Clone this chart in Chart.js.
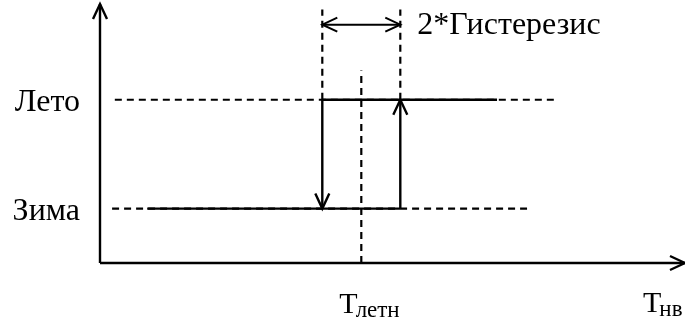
<!DOCTYPE html>
<html>
<head>
<meta charset="utf-8">
<script src="https://cdn.jsdelivr.net/npm/chart.js@4.4.0/dist/chart.umd.min.js"></script>
<style>
  html, body { margin: 0; padding: 0; background: #fff; }
  #wrap { width: 685px; height: 326px; }
</style>
</head>
<body>
<div id="wrap"><canvas id="chart" width="685" height="326"></canvas></div>
<script>
// axes range (x: Тнв relative to Тлетн, in units of hysteresis; y: mode level)
const xRange = [-6.7, 8.3];
const yRange = [-0.5, 1.88];

// mode levels
const levelLabels = ['Зима', 'Лето'];
const levelValues = [0, 1];

// switching points: Тлетн -/+ Гистерезис
const tSummer = 0;
const switchTemps = [-1, 1];

// horizontal guides and solid state lines (x from / to)
const summerGuideX = [-6.32, 5.04];
const summerLineX = [-1, 3.48];
const winterGuideX = [-6.39, 4.25];
const winterLineX = [-5.49, 1];

// vertical guides (y from / to)
const switchGuideY = [1, 1.83];
const centerGuideY = [-0.5, 1.27];
const spanArrowY = 1.69;

const FONT = "'Liberation Serif', 'Times New Roman', serif";
const DASH = [7, 5];

function seg(x0, y0, x1, y1, opts = {}) {
  return Object.assign({
    data: [{ x: x0, y: y0 }, { x: x1, y: y1 }],
    borderColor: '#000',
    borderWidth: 2.4,
    pointRadius: 0,
    tension: 0,
    fill: false,
    clip: false
  }, opts);
}

const datasets = [
  // axes
  seg(xRange[0], yRange[0], xRange[1], yRange[0], { arrow: 'end' }),
  seg(xRange[0], yRange[0], xRange[0], yRange[1], { arrow: 'end' }),
  // dashed guides
  seg(summerGuideX[0], levelValues[1], summerGuideX[1], levelValues[1], { borderDash: DASH, borderWidth: 2.2 }),
  seg(winterGuideX[0], levelValues[0], winterGuideX[1], levelValues[0], { borderDash: DASH, borderWidth: 2.2 }),
  seg(switchTemps[0], switchGuideY[0], switchTemps[0], switchGuideY[1], { borderDash: DASH, borderWidth: 2.2 }),
  seg(switchTemps[1], switchGuideY[0], switchTemps[1], switchGuideY[1], { borderDash: DASH, borderWidth: 2.2 }),
  seg(tSummer, centerGuideY[0], tSummer, centerGuideY[1], { borderDash: DASH, borderWidth: 2.2 }),
  // solid state lines
  seg(summerLineX[0], levelValues[1], summerLineX[1], levelValues[1]),
  seg(winterLineX[0], levelValues[0], winterLineX[1], levelValues[0]),
  // transitions
  seg(switchTemps[0], levelValues[1], switchTemps[0], levelValues[0], { arrow: 'end' }),
  seg(switchTemps[1], levelValues[0], switchTemps[1], levelValues[1], { arrow: 'end' }),
  // hysteresis span
  seg(switchTemps[0], spanArrowY, switchTemps[1], spanArrowY, { arrow: 'both', borderWidth: 2 })
];

function drawHead(ctx, tip, from, len, half) {
  const a = Math.atan2(tip.y - from.y, tip.x - from.x);
  ctx.beginPath();
  ctx.moveTo(tip.x - len * Math.cos(a) + half * Math.sin(a), tip.y - len * Math.sin(a) - half * Math.cos(a));
  ctx.lineTo(tip.x, tip.y);
  ctx.lineTo(tip.x - len * Math.cos(a) - half * Math.sin(a), tip.y - len * Math.sin(a) + half * Math.cos(a));
  ctx.stroke();
}

const arrowPlugin = {
  id: 'arrows',
  afterDatasetsDraw(chart) {
    const ctx = chart.ctx;
    ctx.save();
    ctx.strokeStyle = '#000';
    ctx.setLineDash([]);
    chart.data.datasets.forEach((ds, i) => {
      if (!ds.arrow) return;
      const pts = chart.getDatasetMeta(i).data;
      const p0 = pts[0], p1 = pts[pts.length - 1];
      ctx.lineWidth = ds.borderWidth;
      drawHead(ctx, p1, p0, 15, 7);
      if (ds.arrow === 'both') drawHead(ctx, p0, p1, 15, 7);
    });
    ctx.restore();
  }
};

const textPlugin = {
  id: 'texts',
  afterDraw(chart) {
    const ctx = chart.ctx;
    const xs = chart.scales.x, ys = chart.scales.y;
    const area = chart.chartArea;
    ctx.save();
    ctx.fillStyle = '#000';
    ctx.font = '32px ' + FONT;
    ctx.textBaseline = 'middle';

    // level names
    ctx.textAlign = 'right';
    levelLabels.forEach((lbl, i) => {
      ctx.fillText(lbl, area.left - 20, ys.getPixelForValue(levelValues[i]) + 3);
    });

    // hysteresis caption
    ctx.textAlign = 'left';
    ctx.fillText('2*Гистерезис', xs.getPixelForValue(switchTemps[1]) + 17, ys.getPixelForValue(spanArrowY) + 1);

    // Тлетн and Тнв with subscripts
    function sub(main, small, x, y) {
      ctx.textBaseline = 'alphabetic';
      ctx.font = '30px ' + FONT;
      ctx.fillText(main, x, y);
      const w = ctx.measureText(main).width;
      ctx.font = '23px ' + FONT;
      ctx.fillText(small, x + w - 2, y + 4);
    }
    sub('Т', 'летн', xs.getPixelForValue(tSummer) - 22, area.bottom + 50);
    sub('Т', 'нв', area.right - 42, area.bottom + 49);
    ctx.restore();
  }
};

new Chart(document.getElementById('chart'), {
  type: 'line',
  data: { datasets },
  options: {
    responsive: false,
    animation: false,
    devicePixelRatio: 1,
    layout: { padding: { left: 100, right: 0, top: 4, bottom: 63 } },
    plugins: { legend: { display: false }, tooltip: { enabled: false } },
    scales: {
      x: { type: 'linear', min: xRange[0], max: xRange[1], display: false },
      y: { type: 'linear', min: yRange[0], max: yRange[1], display: false }
    }
  },
  plugins: [arrowPlugin, textPlugin]
});
</script>
</body>
</html>
